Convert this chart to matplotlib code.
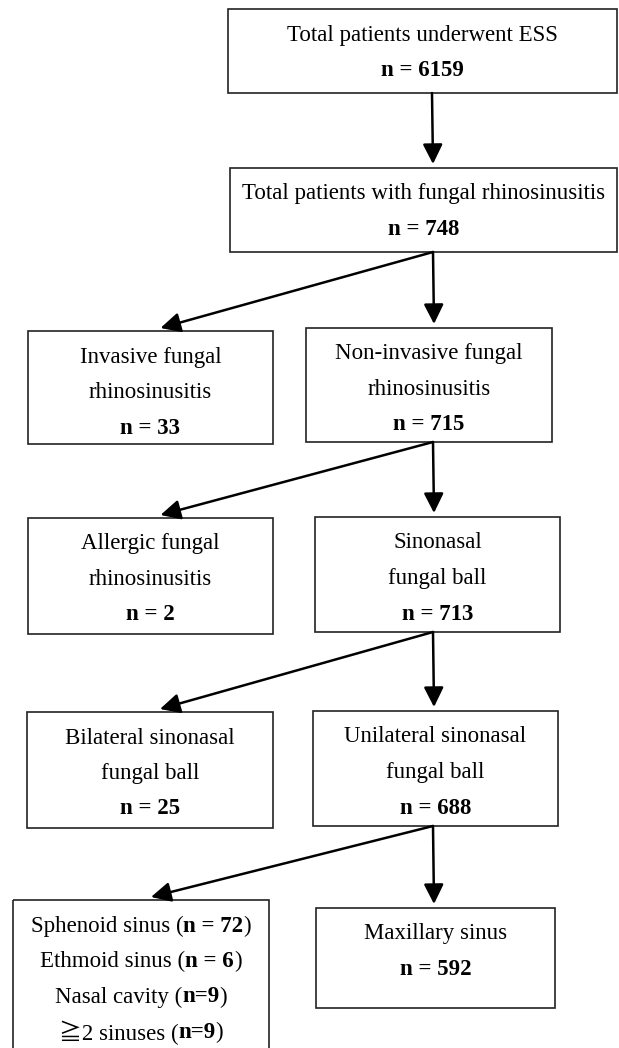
import matplotlib.pyplot as plt
from matplotlib.patches import Rectangle

# Flowchart contents
titles = ['Total patients underwent ESS',
          'Total patients with fungal rhinosinusitis',
          'Invasive fungal\nrhinosinusitis',
          'Non-invasive fungal\nrhinosinusitis',
          'Allergic fungal\nrhinosinusitis',
          'Sinonasal\nfungal ball',
          'Bilateral sinonasal\nfungal ball',
          'Unilateral sinonasal\nfungal ball',
          'Maxillary sinus']
counts = [6159, 748, 33, 715, 2, 713, 25, 688, 592]

site_names = ['Sphenoid sinus', 'Ethmoid sinus', 'Nasal cavity', '\u22672 sinuses']
site_counts = [72, 6, 9, 9]
site_fmt = ['n = {}', 'n = {}', 'n={}', 'n={}']

# parent -> children (index into titles, 'sites' = the multi-line box)
edges = [(0, 1), (1, 2), (1, 3), (3, 4), (3, 5), (5, 6), (5, 7), (7, 'sites'), (7, 8)]

# box layout in pixels: left, top, right, bottom
boxes = {0: (228, 9, 617, 93),
         1: (230, 168, 617, 252),
         2: (28, 331, 273, 444),
         3: (306, 328, 552, 442),
         4: (28, 518, 273, 634),
         5: (315, 517, 560, 632),
         6: (27, 712, 273, 828),
         7: (313, 711, 558, 826),
         'sites': (13, 900, 269, 1060),
         8: (316, 908, 555, 1008)}

W, H = 619, 1048
fig = plt.figure(figsize=(W / 100, H / 100), dpi=100)
ax = fig.add_axes([0, 0, 1, 1])
ax.set_xlim(0, W)
ax.set_ylim(H, 0)
ax.axis('off')

FS = 16.5
serif = ['Liberation Serif', 'Noto Sans CJK JP', 'DejaVu Sans']
renderer = fig.canvas.get_renderer()
line_gap = 35.5
first_pad = 26


def draw_parts(cx, cy, parts):
    # parts: list of (text, weight); drawn side by side, centred on cx
    objs = []
    for s, wgt in parts:
        t = ax.text(0, cy, s, fontsize=FS, family=serif, weight=wgt,
                    ha='left', va='center')
        objs.append(t)
    widths = [t.get_window_extent(renderer).width for t in objs]
    x = cx - sum(widths) / 2
    for t, w in zip(objs, widths):
        t.set_x(x)
        x += w


for key, (l, t, r, b) in boxes.items():
    ax.add_patch(Rectangle((l, t), r - l, b - t, fill=False,
                           edgecolor='#222222', lw=1.2))

for i, title in enumerate(titles):
    l, t, r, b = boxes[i]
    lines = title.split('\n') + ['n = {}'.format(counts[i])]
    cx = (l + r) / 2
    for j, s in enumerate(lines):
        wgt = 'bold' if j == len(lines) - 1 else 'normal'
        draw_parts(cx, t + first_pad + j * line_gap, [(s, wgt)])

# multi-line sites box
l, t, r, b = boxes['sites']
cx = (l + r) / 2
for j, (nm, c, f) in enumerate(zip(site_names, site_counts, site_fmt)):
    y = t + first_pad + j * line_gap
    draw_parts(cx, y, [(nm + ' (', 'normal'),
                       (f.format(c), 'bold'), (')', 'normal')])

# arrows
for p, c in edges:
    pl, pt, pr, pb = boxes[p]
    cl, ct, cr, cb = boxes[c]
    x0 = 433 if p != 0 else 432
    if cl < 200:
        x1, y1 = (cl + cr) / 2 + 10, ct - 3
    else:
        x1, y1 = x0 + 1, ct - 4
    ax.annotate('', xy=(x1, y1), xytext=(x0, pb),
                arrowprops=dict(arrowstyle='-|>,head_length=0.6,head_width=0.3',
                                lw=1.8, color='black',
                                mutation_scale=20, shrinkA=0, shrinkB=0))

fig.savefig('out.png', dpi=100, facecolor='white')
